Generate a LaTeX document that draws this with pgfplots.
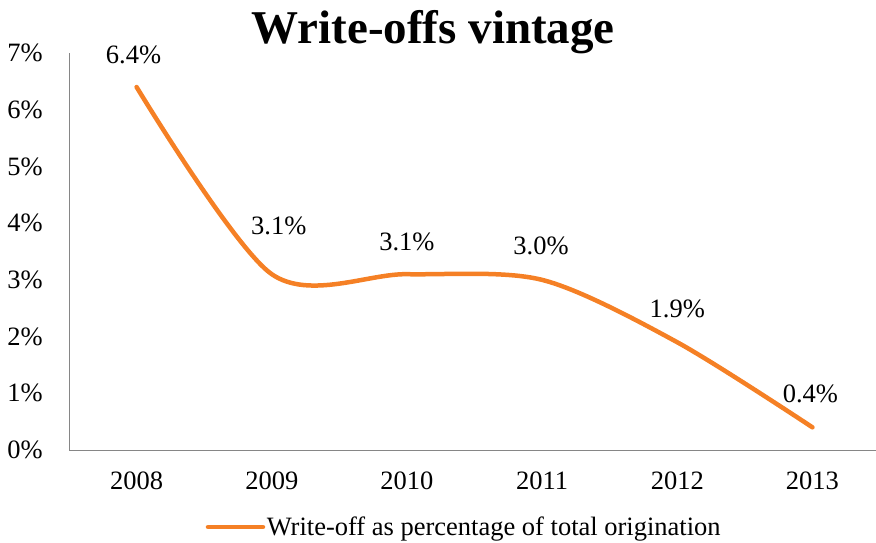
\documentclass[border=0pt]{standalone}
\usepackage{fontspec}
\setmainfont{Liberation Serif}
\usepackage{pgfplots}
\pgfplotsset{compat=1.18}
\usepackage{pgfplotstable}
\definecolor{lineorange}{RGB}{245,128,37}
\definecolor{axgray}{RGB}{134,134,134}
\pgfplotstableread{
x y dx dy
0 6.4 -3 32
1 3.1 7 48
2 3.1 0 32
3 3.0 -1 34
4 1.9 0 33
5 0.4 -2 33
}\datatable
\begin{document}
\begin{tikzpicture}
\path[use as bounding box] (0,0) rectangle (876bp,-543bp);
\begin{axis}[
  at={(69bp,-450bp)}, anchor=south west,
  width=811bp, height=397bp, scale only axis,
  xmin=-0.5, xmax=5.5, ymin=0, ymax=7,
  axis x line=bottom, axis y line=left,
  axis line style={axgray, line width=1bp, -},
  every outer x axis line/.append style={-},
  every outer y axis line/.append style={-},
  xtick={0,1,2,3,4,5}, xticklabels={2008,2009,2010,2011,2012,2013},
  ytick={0,1,2,3,4,5,6,7}, yticklabel={\pgfmathprintnumber{\tick}\%},
  major tick length=0,
  /pgf/number format/assume math mode=true,
  tick label style={font=\fontsize{26.5bp}{30bp}\selectfont, text=black},
  xticklabel style={anchor=north, inner sep=0pt, yshift=-22bp},
  yticklabel style={anchor=east, inner sep=0pt, xshift=-26bp},
  title={Write-offs vintage},
  title style={font=\fontsize{47bp}{50bp}\selectfont\bfseries, at={(0.449,1.010)}, anchor=base, inner sep=0pt},
  legend style={at={(0.487,-0.194)}, anchor=center, draw=none, fill=none, inner sep=0pt,
    font=\fontsize{26.5bp}{30bp}\selectfont, nodes={inner sep=1.5bp}},
  legend cell align=left,
  legend image code/.code={\draw[#1] (0bp,0bp) -- (55bp,0bp);},
]
\addplot[lineorange, line width=4.5bp, smooth, line cap=round, line join=round,
  point meta=y,
  nodes near coords={\pgfmathprintnumber[fixed,fixed zerofill,precision=1]{\pgfplotspointmeta}\%},
  visualization depends on={\thisrow{dx}\as\dx},
  visualization depends on={\thisrow{dy}\as\dy},
  every node near coord/.append style={text=black, font=\fontsize{26.5bp}{30bp}\selectfont,
    anchor=center, inner sep=0pt, xshift=\dx bp, yshift=\dy bp}]
  table[x=x,y=y]{\datatable};
\addlegendentry{Write-off as percentage of total origination}
\end{axis}
\end{tikzpicture}
\end{document}
